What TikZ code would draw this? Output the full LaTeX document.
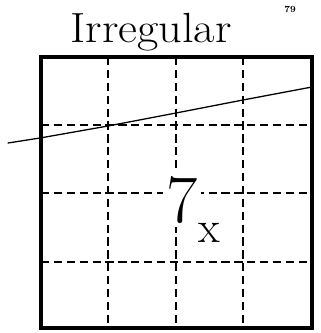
\documentclass[tikz,border=0pt]{standalone}
\usetikzlibrary{positioning}
\begin{document}
\begin{tikzpicture}[
			x=0.03cm, y=-0.03cm,
			every node/.style={inner sep=0pt},
			frame/.style={line width=2.6pt},
			gridline/.style={line width=1.4pt, dash pattern=on 7pt off 4pt},
			trend/.style={line width=1.1pt, line cap=round, line join=round}
			]
			\useasboundingbox (0,0) rectangle (321,333);
			
			\node[font=\fontsize{36}{36}\selectfont, anchor=base, xscale=1.1] (title) at (151,42) {Irregular};
			\node[font=\bfseries\footnotesize, anchor=base] (page) at (290,12) {79};
			
			\foreach \xv in {108,176,243}
				\draw[gridline] (\xv,57) -- (\xv,328);
			\foreach \yv in {125,193,262}
				\draw[gridline] (41,\yv) -- (312,\yv);
			
			\draw[frame] (41,57) rectangle (312,328);
			
			\draw[trend] (8,143) -- (40,138) -- (108,126) -- (176,113) -- (243,100) -- (312,87);
			
			\node[font=\fontsize{58}{58}\selectfont, anchor=base, fill=white, inner sep=3pt] (seven) at (182,222) {7};
			\node[font=\fontsize{38}{38}\selectfont, anchor=base west] (sub) at (198,242) {x};
			
		\end{tikzpicture}
\end{document}
